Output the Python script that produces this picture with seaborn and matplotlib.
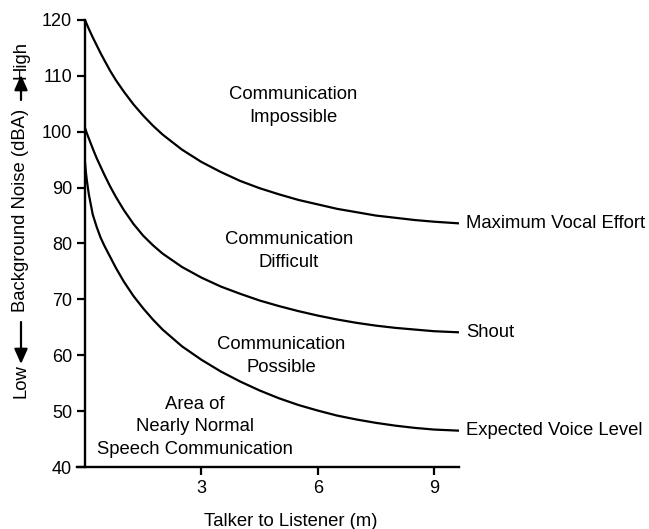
import matplotlib
matplotlib.use("Agg")
import matplotlib.pyplot as plt
from matplotlib.patches import FancyArrowPatch
import seaborn as sns
import pandas as pd

# Talker-to-listener distance (m) at which each level is read
distance = [0, 0.02, 0.05, 0.1, 0.2, 0.3, 0.4, 0.5, 0.65, 0.8, 1.0, 1.25, 1.5,
            1.75, 2.0, 2.5, 3.0, 3.5, 4.0, 4.5, 5.0, 5.5, 6.0, 6.5, 7.0, 7.5,
            8.0, 8.5, 9.0, 9.65]

# Background noise level (dBA) for each voice effort
max_vocal_effort = [120.0, 119.7, 119.2, 118.4, 116.9, 115.5, 114.1, 112.8,
                    110.9, 109.2, 107.2, 104.9, 102.9, 101.1, 99.5, 96.8,
                    94.6, 92.8, 91.2, 89.9, 88.8, 87.8, 87.0, 86.2, 85.6,
                    85.0, 84.6, 84.2, 83.9, 83.6]
shout = [100.7, 100.3, 99.7, 98.8, 97.0, 95.3, 93.8, 92.3, 90.2, 88.3, 86.0,
         83.5, 81.4, 79.7, 78.2, 75.8, 73.9, 72.3, 71.0, 69.8, 68.8, 67.9,
         67.1, 66.4, 65.8, 65.3, 64.9, 64.6, 64.3, 64.1]
expected_voice = [94.6, 93.0, 91.2, 88.8, 85.2, 83.0, 81.1, 79.6, 77.6, 75.6,
                  73.2, 70.6, 68.4, 66.4, 64.6, 61.6, 59.2, 57.1, 55.3, 53.7,
                  52.3, 51.1, 50.1, 49.2, 48.5, 47.9, 47.4, 47.0, 46.7, 46.5]

curve_names = ["Maximum Vocal Effort", "Shout", "Expected Voice Level"]
curve_values = [max_vocal_effort, shout, expected_voice]

region_labels = ["Communication\nImpossible", "Communication\nDifficult",
                 "Communication\nPossible",
                 "Area of\nNearly Normal\nSpeech Communication"]
region_x = [5.36, 5.25, 5.05, 2.84]
region_y = [104.6, 78.6, 59.9, 47.2]

x_ticks = [3, 6, 9]
y_ticks = [40, 50, 60, 70, 80, 90, 100, 110, 120]

sns.set_theme(style="white")
plt.rcParams["font.family"] = ["Liberation Sans", "DejaVu Sans"]

df = pd.DataFrame({
    "distance": distance * len(curve_names),
    "level": [v for vals in curve_values for v in vals],
    "curve": [n for n in curve_names for _ in distance],
})

fig = plt.figure(figsize=(6.49, 5.29), dpi=100)
ax = fig.add_axes([0.1186, 0.1172, 0.5886, 0.845])

sns.lineplot(data=df, x="distance", y="level", hue="curve",
             palette={n: "black" for n in curve_names}, legend=False,
             linewidth=1.6, ax=ax, sort=True)

ax.set_xlim(-0.206, 9.64)
ax.set_ylim(40, 120)
ax.set_xticks(x_ticks)
ax.set_xticklabels([str(t) for t in x_ticks])
ax.set_yticks(y_ticks)
ax.set_yticklabels([str(t) for t in y_ticks])

for side in ("top", "right"):
    ax.spines[side].set_visible(False)
ax.spines["left"].set_position(("data", 0))
ax.spines["left"].set_bounds(40, 120)
for side in ("left", "bottom"):
    ax.spines[side].set_linewidth(1.7)
    ax.spines[side].set_color("black")

ax.tick_params(axis="both", direction="out", length=5.8, width=1.6,
               color="black", labelsize=13, pad=3.5, labelcolor="black")
ax.tick_params(axis="y", left=True)
ax.tick_params(axis="x", bottom=True)

# End-of-curve labels
for name, vals in zip(curve_names, curve_values):
    ax.annotate(name, xy=(distance[-1], vals[-1]), xytext=(5, 0),
                textcoords="offset points", ha="left", va="center",
                fontsize=13.3, color="black", annotation_clip=False)

# Region descriptions
for txt, x, y in zip(region_labels, region_x, region_y):
    ax.text(x, y, txt, ha="center", va="center", fontsize=13.3,
            color="black", linespacing=1.44)

ax.set_xlabel("Talker to Listener (m)", fontsize=13.3, color="black")
ax.xaxis.set_label_coords(0.559, -0.102)
ax.set_ylabel("")

# Vertical axis title with direction arrows
fx = 21 / 649
H = 529
fig.text(fx, 1 - 60 / H, "High", rotation=90, ha="center", va="center",
         fontsize=13.3, color="black")
fig.text(fx, 1 - 210 / H, "Background Noise (dBA)", rotation=90,
         ha="center", va="center", fontsize=13.3, color="black")
fig.text(fx, 1 - 381 / H, "Low", rotation=90, ha="center", va="center",
         fontsize=13.3, color="black")
for tail, tip in (((fx, 1 - 100 / H), (fx, 1 - 75 / H)),
                  ((fx, 1 - 322 / H), (fx, 1 - 364 / H))):
    fig.add_artist(FancyArrowPatch(
        tail, tip, transform=fig.transFigure,
        arrowstyle="-|>,head_length=9,head_width=4", color="black", lw=1.6,
        mutation_scale=1, shrinkA=0, shrinkB=0))

fig.savefig("out.png", dpi=100)
